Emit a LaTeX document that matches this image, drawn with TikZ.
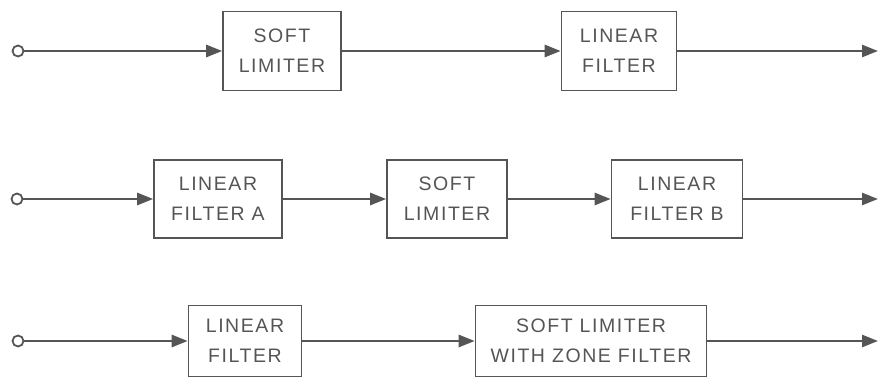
\documentclass[tikz,border=0pt]{standalone}
\usepackage{fontspec}
\setmainfont{Liberation Sans}[LetterSpace=8]
\usepackage{xcolor}
\usetikzlibrary{arrows.meta,positioning}
\definecolor{ink}{HTML}{555555}
\tikzset{
  blk/.style    ={rectangle,draw=ink,line width=1.6pt,minimum height=79pt,
                  inner sep=0pt,align=center,text=ink,font=\fontsize{19.5}{30}\selectfont},
  term/.style   ={circle,draw=ink,line width=1.8pt,minimum size=11pt,inner sep=0pt,fill=white},
  sig/.style    ={draw=ink,line width=2.6pt,-{Triangle[length=16pt,width=12pt]}},
}
\begin{document}
\begin{tikzpicture}[x=1pt,y=-1pt]
  \useasboundingbox (0,0) rectangle (878,379);
  % first chain
  \node[term] (in1) at (18,51){};
  \node[blk,minimum width=118pt] (lim1) at (282,51){SOFT\\LIMITER};
  \node[blk,minimum width=115pt] (fil1) at (619,51){LINEAR\\FILTER};
  \coordinate (out1) at (878,51);
  \draw[sig] (in1)--(lim1);
  \draw[sig] (lim1)--(fil1);
  \draw[sig] (fil1)--(out1);
  % second chain
  \node[term] (in2) at (17,199){};
  \node[blk,minimum width=128pt,minimum height=78pt] (filA) at (218,199){LINEAR\\FILTER A};
  \node[blk,minimum width=120pt,minimum height=78pt] (lim2) at (447,199){SOFT\\LIMITER};
  \node[blk,minimum width=131pt,minimum height=78pt] (filB) at (677,199){LINEAR\\FILTER B};
  \coordinate (out2) at (878,199);
  \draw[sig] (in2)--(filA);
  \draw[sig] (filA)--(lim2);
  \draw[sig] (lim2)--(filB);
  \draw[sig] (filB)--(out2);
  % third chain
  \node[term] (in3) at (18,341){};
  \node[blk,minimum width=113pt,minimum height=71pt] (fil3) at (245,341){LINEAR\\FILTER};
  \node[blk,minimum width=231pt,minimum height=71pt] (lim3) at (591,341){SOFT LIMITER\\WITH ZONE FILTER};
  \coordinate (out3) at (878,341);
  \draw[sig] (in3)--(fil3);
  \draw[sig] (fil3)--(lim3);
  \draw[sig] (lim3)--(out3);
\end{tikzpicture}
\end{document}
